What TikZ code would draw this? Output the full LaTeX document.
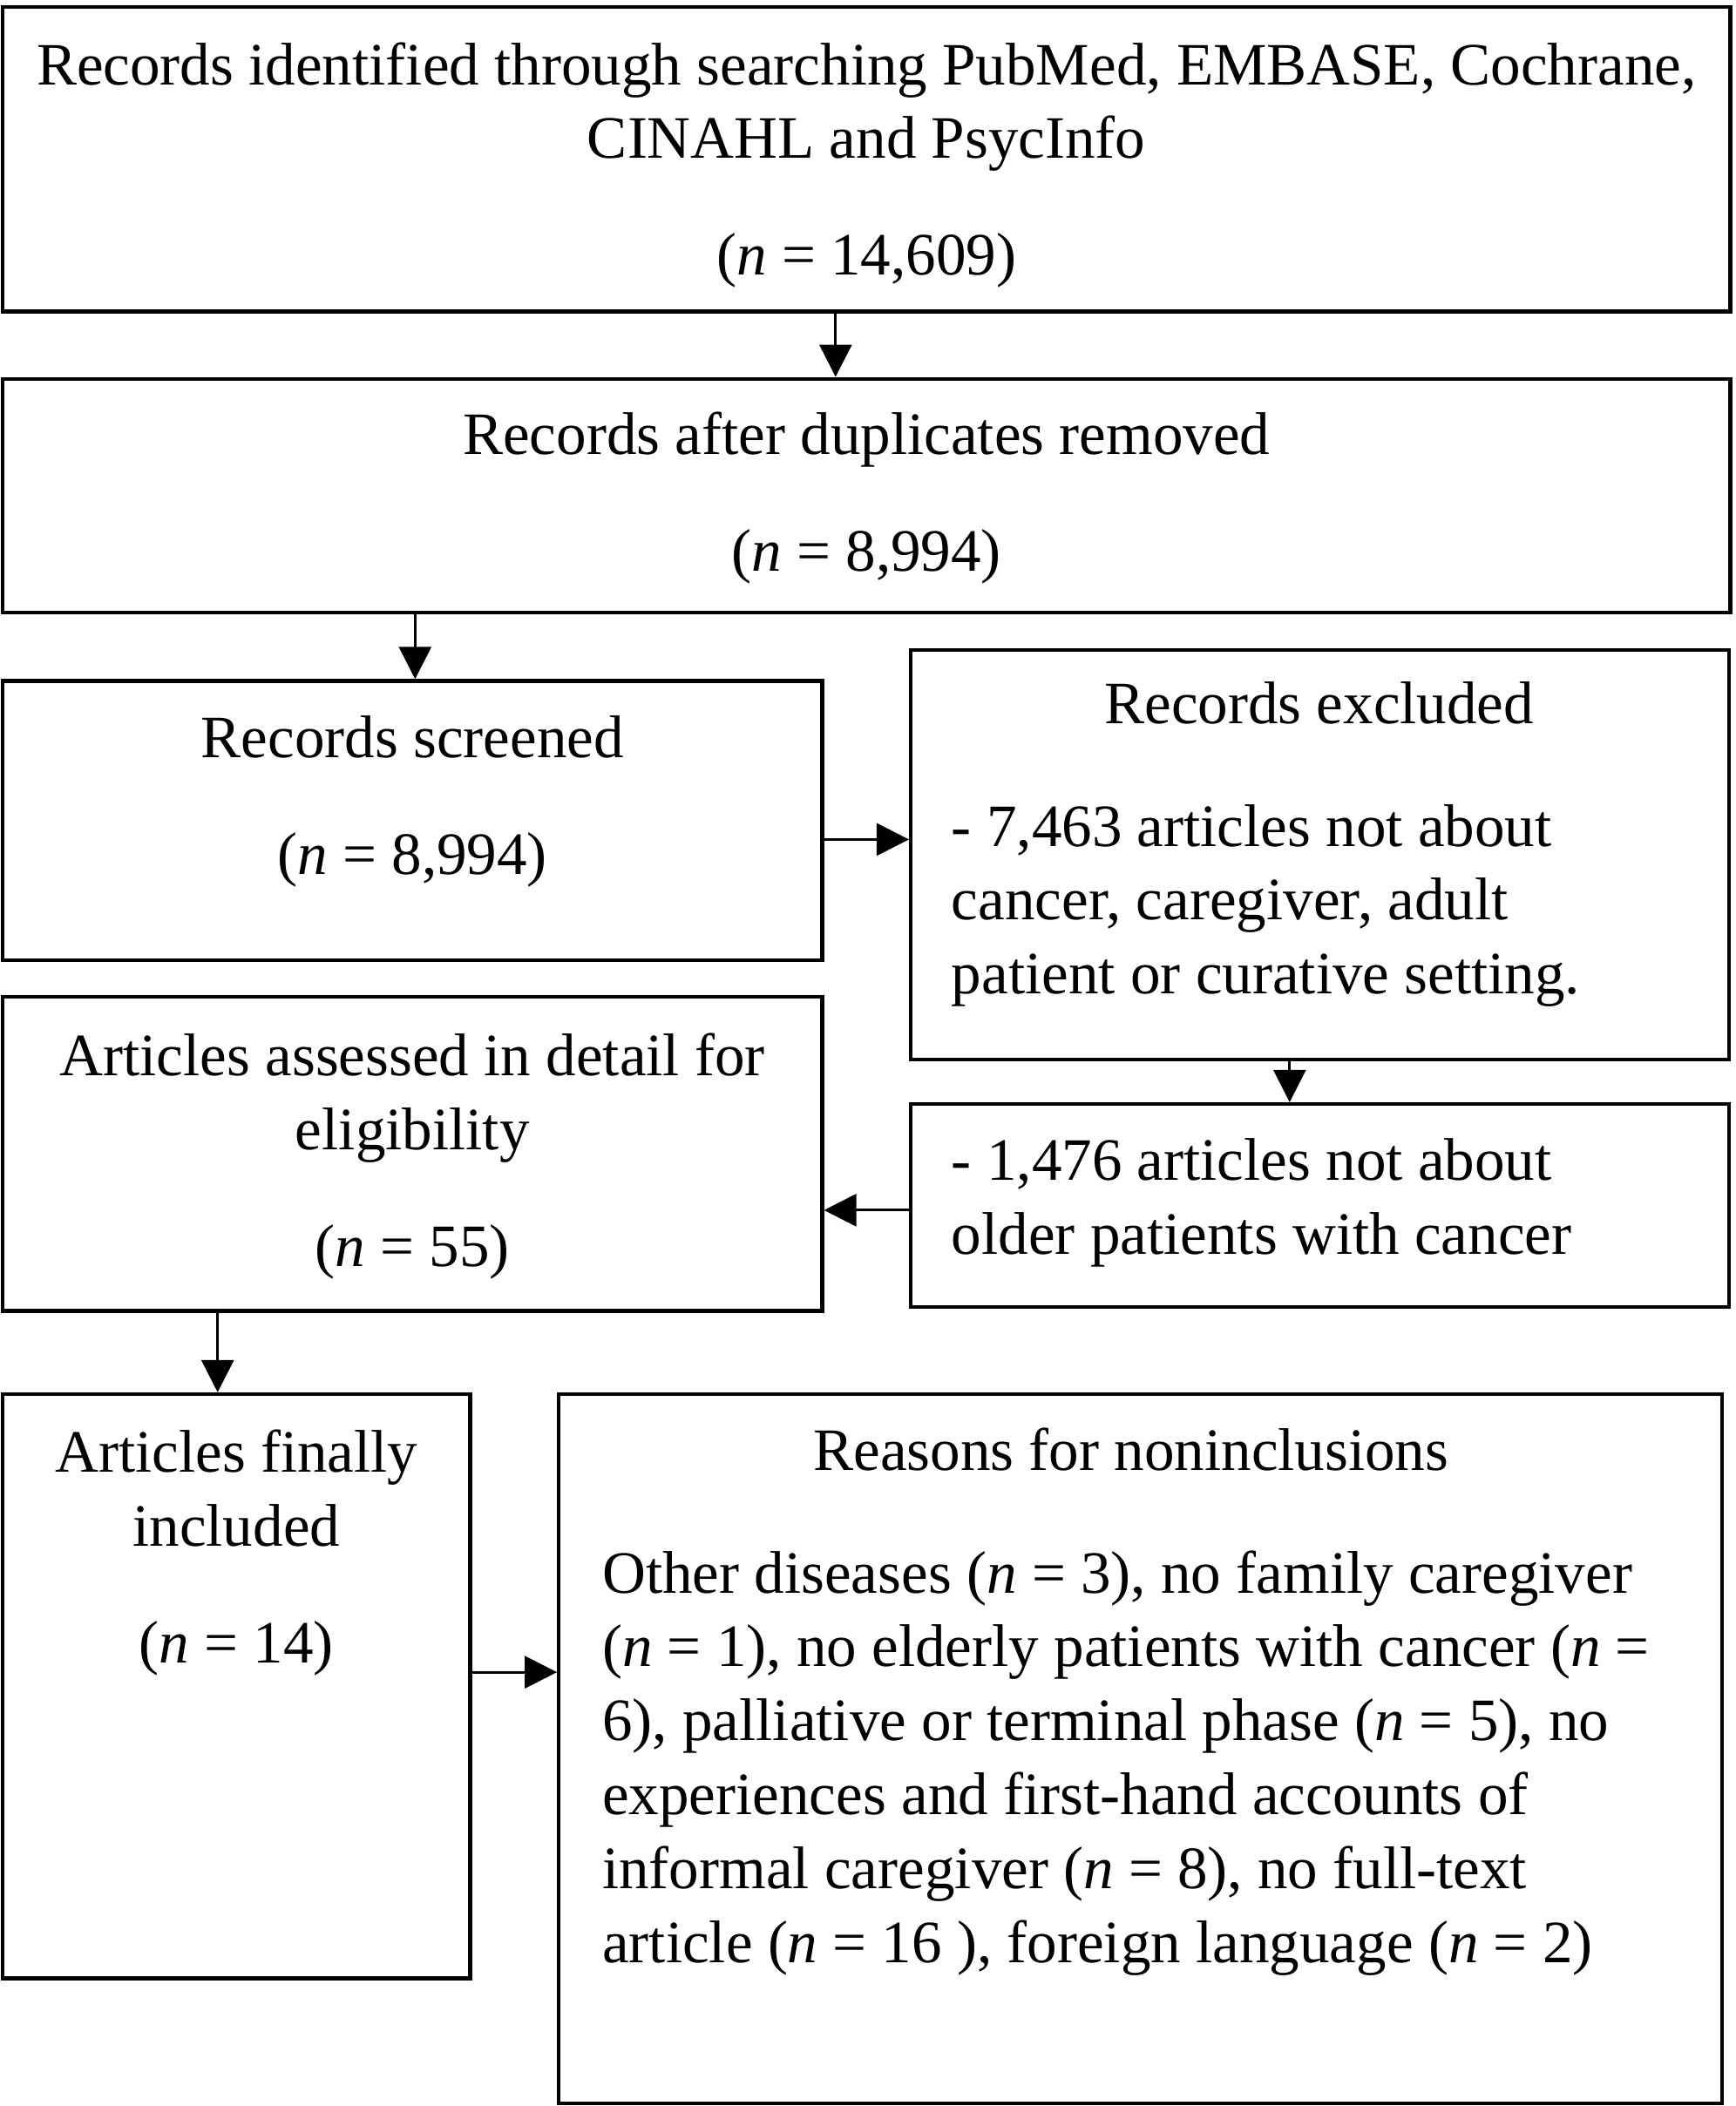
\documentclass[tikz,border=0pt]{standalone}
\usepackage{fontspec}
\setmainfont{Liberation Serif}
\usepackage{tikz}
\usetikzlibrary{arrows.meta}
\usetikzlibrary{fit}

\begin{document}
\begin{tikzpicture}[
  x=0.5pt, y=-0.5pt,
  box/.style={
    rectangle,
    draw=black,
    line width=1.4pt,
    inner sep=0pt
  },
  txt/.style={
    font=\fontsize{22.4}{27.5}\selectfont,
    inner sep=0pt,
    align=center,
    anchor=base
  },
  body/.style={txt, align=left, anchor=base west},
  arr/.style={-{Triangle[length=12pt, width=12pt]}, line width=0.9pt}
]
\useasboundingbox (0,0) rectangle (1292,1568);
% boxes
\node[box, fit={(2,5) (1288,232)}]     (top) {};
\node[box, fit={(2,282) (1288,456)}]   (dup) {};
\node[box, fit={(2,507) (612,715)}]    (scr) {};
\node[box, fit={(678,484) (1287,789)}] (exc) {};
\node[box, fit={(2,742) (612,976)}]    (asd) {};
\node[box, fit={(678,822) (1287,973)}] (old) {};
\node[box, fit={(2,1038) (350,1473)}]  (inc) {};
\node[box, fit={(416,1038) (1282,1566)}] (rsn) {};
% texts (placed at the baseline of their last line)
\node[txt] (toptx) at (645,205) {Records identified through searching PubMed, EMBASE, Cochrane,\\
  CINAHL and PsycInfo\\[16pt] (\textit{n} = 14,609)};
\node[txt] (duptx) at (645,425) {Records after duplicates removed\\[16pt] (\textit{n} = 8,994)};
\node[txt] (scrtx) at (307,651) {Records screened\\[16pt] (\textit{n} = 8,994)};
\node[txt] (exchd) at (982,539) {Records excluded};
\node[body] (exctx) at (708,740) {- 7,463 articles not about\\ cancer, caregiver, adult\\
  patient or curative setting.};
\node[txt] (asdtx) at (307,943) {Articles assessed in detail for\\ eligibility\\[16pt] (\textit{n} = 55)};
\node[body] (oldtx) at (708,934) {- 1,476 articles not about\\ older patients with cancer};
\node[txt] (inctx) at (176,1238) {Articles finally\\ included\\[16pt] (\textit{n} = 14)};
\node[txt] (rsnhd) at (842,1095) {Reasons for noninclusions};
\node[body] (rsntx) at (448,1461) {Other diseases (\textit{n} = 3), no family caregiver\\
  (\textit{n} = 1), no elderly patients with cancer (\textit{n} =\\
  6), palliative or terminal phase (\textit{n} = 5), no\\
  experiences and first-hand accounts of\\
  informal caregiver (\textit{n} = 8), no full-text\\
  article (\textit{n} = 16 ), foreign language (\textit{n} = 2)};
% arrows
\draw[arr] (top.south -| 622,0) -- (dup.north -| 622,0);
\draw[arr] (dup.south -| 309,0) -- (scr.north -| 309,0);
\draw[arr] (scr.east |- 0,625) -- (exc.west |- 0,625);
\draw[arr] (exc.south -| 960,0) -- (old.north -| 960,0);
\draw[arr] (old.west |- 0,901) -- (asd.east |- 0,901);
\draw[arr] (asd.south -| 162,0) -- (inc.north -| 162,0);
\draw[arr] (inc.east |- 0,1245) -- (rsn.west |- 0,1245);
\end{tikzpicture}
\end{document}
